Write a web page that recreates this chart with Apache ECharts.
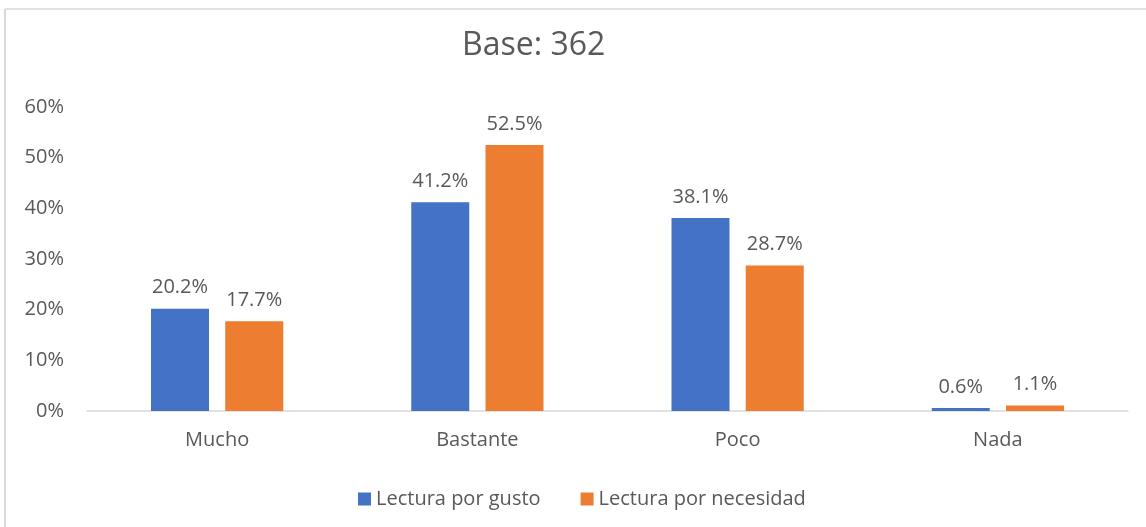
<!DOCTYPE html>
<html>
<head>
<meta charset="utf-8">
<script src="https://cdn.jsdelivr.net/npm/echarts@6/dist/echarts.min.js"></script>
<style>
html,body{margin:0;padding:0;background:#fff;}
#c{width:1146px;height:527px;}
</style>
</head>
<body>
<div id="c"></div>
<script>
const categories = ['Mucho', 'Bastante', 'Poco', 'Nada'];
const seriesNames = ['Lectura por gusto', 'Lectura por necesidad'];
const gusto = [20.2, 41.2, 38.1, 0.6];
const necesidad = [17.7, 52.5, 28.7, 1.1];
const titleText = 'Base: 362';

const FONT = '"Open Sans", "Liberation Sans", Arial, sans-serif';
const TXT = '#595959';
const FS = 20;

const chart = echarts.init(document.getElementById('c'), null, {renderer: 'canvas'});
const labelOpt = {
  show: true, position: 'top', distance: 11,
  color: TXT, fontFamily: FONT, fontSize: FS,
  formatter: p => p.value.toFixed(1) + '%'
};
chart.setOption({
  animation: false,
  title: {
    text: titleText, left: 457, top: 25,
    textStyle: {color: TXT, fontFamily: FONT, fontSize: 32, fontWeight: 'normal'}
  },
  graphic: [
    {type: 'line', shape: {x1: 5, y1: 9, x2: 1146, y2: 9}, style: {stroke: '#D9D9D9', lineWidth: 1.5}},
    {type: 'line', shape: {x1: 5, y1: 9, x2: 5, y2: 527}, style: {stroke: '#D9D9D9', lineWidth: 2}}
  ],
  legend: {
    data: seriesNames, left: 353, top: 484,
    icon: 'rect', itemWidth: 13, itemHeight: 13, itemGap: 40,
    textStyle: {color: TXT, fontFamily: FONT, fontSize: FS}
  },
  grid: {left: 87, right: 18, top: 107, bottom: 116, containLabel: false},
  xAxis: {
    type: 'category', data: categories,
    axisLine: {lineStyle: {color: '#D9D9D9', width: 1.5}},
    axisTick: {show: false},
    axisLabel: {color: TXT, fontFamily: FONT, fontSize: FS, margin: 19}
  },
  yAxis: {
    type: 'value', min: 0, max: 60, interval: 10,
    axisLine: {show: false}, axisTick: {show: false},
    splitLine: {show: false},
    axisLabel: {color: TXT, fontFamily: FONT, fontSize: FS, margin: 23, formatter: '{value}%'}
  },
  series: [
    {name: seriesNames[0], type: 'bar', data: gusto, barWidth: 58, barGap: '28%',
     itemStyle: {color: '#4472C4'}, label: labelOpt},
    {name: seriesNames[1], type: 'bar', data: necesidad, barWidth: 58,
     itemStyle: {color: '#ED7D31'}, label: labelOpt}
  ]
});
</script>
</body>
</html>
